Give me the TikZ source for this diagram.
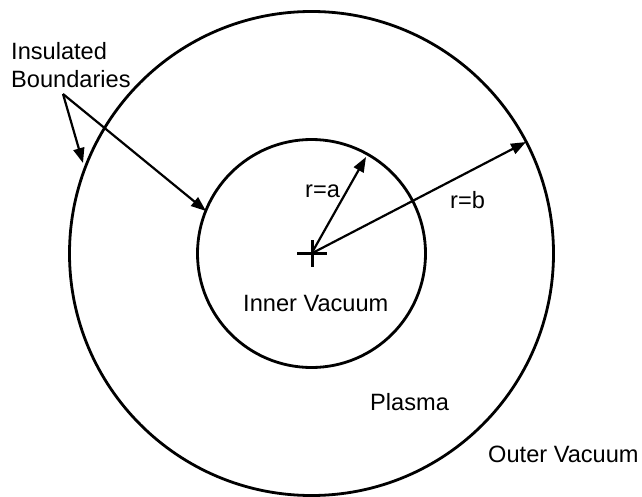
\documentclass[tikz,border=0pt]{standalone}
\usepackage{fontspec}
\setmainfont{Liberation Sans}
\usetikzlibrary{arrows.meta}
\begin{document}
\begin{tikzpicture}[x=1pt,y=-1pt,
  ring/.style={line width=2.8pt},
  ptr/.style={line width=2.2pt,-{Triangle[length=15pt,width=11pt]}},
  lbl/.style={inner sep=0pt,anchor=base west,font=\fontsize{23.6}{28}\selectfont}]
\useasboundingbox (0,0) rectangle (642,497);
\coordinate (c) at (311.5,253.5);
\draw[ring] (c) circle[radius=242];
\draw[ring] (c) circle[radius=114];
\draw[line width=3pt] (297,253) -- (327,253) (312,240) -- (312,267);
\node[lbl] (ins) at (11,60) {Insulated};
\node[lbl] (bnd) at (11,88) {Boundaries};
\coordinate (bs) at (63,94);
\coordinate (t1) at (83,163);
\coordinate (t2) at (206,211);
\draw[ptr] (bs) -- (t1);
\draw[ptr] (bs) -- (t2);
\coordinate (ta) at (366,157);
\coordinate (tb) at (526,142);
\draw[ptr] (c) -- (ta);
\draw[ptr] (c) -- (tb);
\node[lbl] (ra) at (305,197) {r=a};
\node[lbl] (rb) at (450,208) {r=b};
\node[lbl] (iv) at (243,311) {Inner Vacuum};
\node[lbl] (pl) at (370,410) {Plasma};
\node[lbl] (ov) at (488,462) {Outer Vacuum};
\end{tikzpicture}
\end{document}
